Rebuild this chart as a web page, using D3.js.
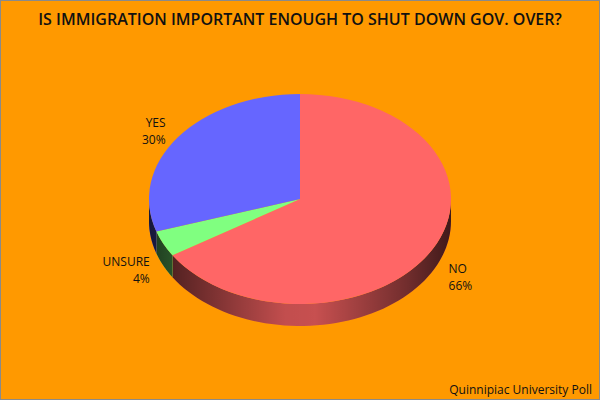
<!DOCTYPE html>
<html>
<head>
<meta charset="utf-8">
<script src="https://cdn.jsdelivr.net/npm/d3@7"></script>
<style>
  html, body { margin: 0; padding: 0; background: #fff; }
  svg { display: block; }
  text { font-family: "Open Sans", "DejaVu Sans", sans-serif; fill: #111; }
</style>
</head>
<body>
<div id="chart"></div>
<script>
// poll answers, in drawing order (clockwise from 12 o'clock)
const labels = ["NO", "UNSURE", "YES"];
const values = [66, 4, 30];
const colors = ["#FF6666", "#80FF80", "#6666FF"];

const title = "IS IMMIGRATION IMPORTANT ENOUGH TO SHUT DOWN GOV. OVER?";
const source = "Quinnipiac University Poll";

const width = 600, height = 400;
const cx = 300, cy = 199;      // centre of top ellipse
const rx = 151, ry = 105;      // ellipse radii
const depth = 22;              // thickness of the 3d side

const svg = d3.select("#chart").append("svg")
    .attr("width", width)
    .attr("height", height);

// background + thin grey frame
svg.append("rect")
    .attr("x", 0.5).attr("y", 0.5)
    .attr("width", width - 1).attr("height", height - 1)
    .attr("fill", "#FF9900")
    .attr("stroke", "#8a8a8a")
    .attr("stroke-width", 1);

// side shading: dark at the edges, lighter toward the middle
const defs = svg.append("defs");
const shade = defs.append("linearGradient")
    .attr("id", "sideShade")
    .attr("gradientUnits", "userSpaceOnUse")
    .attr("x1", cx - rx).attr("x2", cx + rx)
    .attr("y1", 0).attr("y2", 0);
[[0, 0.78], [0.12, 0.62], [0.45, 0.24], [0.55, 0.22], [0.85, 0.55], [1, 0.75]].forEach(s => {
  shade.append("stop")
      .attr("offset", s[0])
      .attr("stop-color", "#000")
      .attr("stop-opacity", s[1]);
});

const data = labels.map((l, i) => ({ label: l, value: values[i], color: colors[i] }));
const pie = d3.pie().sort(null).value(d => d.value);
const arcs = pie(data);

// point on the ellipse for an angle measured clockwise from 12 o'clock
const px = a => cx + rx * Math.sin(a);
const py = a => cy - ry * Math.cos(a);

// side wall for the front (visible) part of a slice
function sidePath(a0, a1) {
  const lo = Math.max(a0, Math.PI / 2), hi = Math.min(a1, Math.PI * 3 / 2);
  if (hi <= lo) return null;
  const steps = 60, pts = [];
  for (let i = 0; i <= steps; i++) {
    const a = lo + (hi - lo) * i / steps;
    pts.push([px(a), py(a)]);
  }
  const bottom = pts.slice().reverse().map(p => [p[0], p[1] + depth]);
  return "M" + pts.concat(bottom).map(p => p[0].toFixed(2) + "," + p[1].toFixed(2)).join("L") + "Z";
}

const sides = svg.append("g");
arcs.forEach(d => {
  const p = sidePath(d.startAngle, d.endAngle);
  if (!p) return;
  sides.append("path").attr("d", p).attr("fill", d.data.color);
  sides.append("path").attr("d", p).attr("fill", "url(#sideShade)");
});

// top faces: a circular arc squashed into an ellipse
const arc = d3.arc().innerRadius(0).outerRadius(rx);
svg.append("g")
    .attr("transform", `translate(${cx},${cy}) scale(1,${ry / rx})`)
  .selectAll("path")
  .data(arcs)
  .join("path")
    .attr("d", arc)
    .attr("fill", d => d.data.color);

// labels outside each slice
const lab = svg.append("g").attr("font-size", "12px");
arcs.forEach(d => {
  const mid = (d.startAngle + d.endAngle) / 2;
  const s = Math.sin(mid), c = Math.cos(mid);
  const x = cx + rx * 1.1 * s + (s > 0 ? 3 : 0);
  const y = cy - ry * 1.1 * c + (c < 0 ? depth : 0);
  const t = lab.append("text")
      .attr("text-anchor", s > 0 ? "start" : "end");
  t.append("tspan").attr("x", x).attr("y", y - 4).text(d.data.label);
  t.append("tspan").attr("x", x).attr("y", y + 13).text(d.data.value + "%");
});

// title
svg.append("text")
    .attr("x", width / 2)
    .attr("y", 25)
    .attr("text-anchor", "middle")
    .attr("font-size", "16px")
    .attr("font-weight", 600)
    .text(title);

// source note
svg.append("text")
    .attr("x", 592)
    .attr("y", 394)
    .attr("text-anchor", "end")
    .attr("font-size", "12px")
    .text(source);
</script>
</body>
</html>
